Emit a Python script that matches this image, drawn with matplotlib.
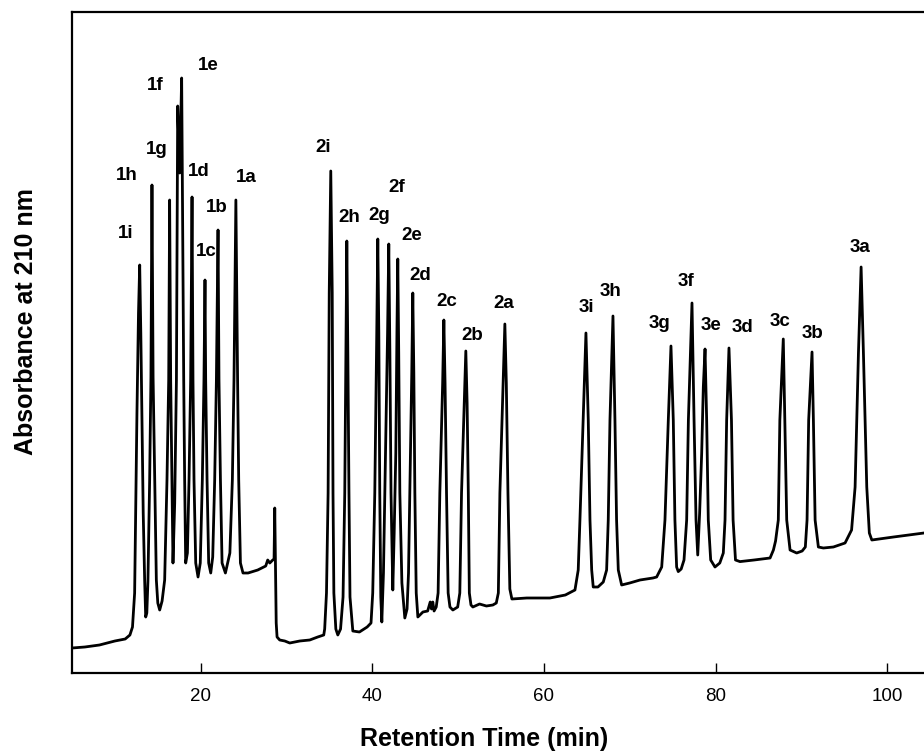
import matplotlib
matplotlib.use("Agg")
import matplotlib.pyplot as plt

plt.rcParams['font.family'] = ['Liberation Sans', 'DejaVu Sans']

# Chromatogram trace: retention time (min), absorbance (arb. units)
TIME = [
    5.00, 6.50, 8.20, 10.00, 11.20, 11.75, 12.05, 12.22,
    12.30, 12.45, 12.57, 12.75, 12.89, 13.02, 13.15, 13.30, 13.47, 13.59,
    13.72, 13.85, 14.05, 14.20, 14.32, 14.45, 14.64, 14.83, 15.00, 15.22,
    15.50, 15.80, 16.07, 16.27, 16.38, 16.50, 16.65, 16.77,
    16.97, 17.17, 17.32, 17.55, 17.78, 18.02, 18.13, 18.25,
    18.45, 18.64, 18.83, 18.99, 19.10, 19.22, 19.42, 19.69,
    19.95, 20.19, 20.38, 20.50, 20.58, 20.74, 20.93, 21.17,
    21.40, 21.63, 21.83, 22.02, 22.13, 22.30, 22.49, 22.88,
    23.40, 23.69, 23.88, 24.10, 24.30, 24.43, 24.63, 24.93, 25.52,
    26.65, 27.58, 27.81, 28.05, 28.40, 28.55, 28.63, 28.70, 28.80, 28.90,
    29.21, 29.80, 30.38, 31.55, 32.71, 33.64, 34.34,
    34.45, 34.66, 34.85, 34.98, 35.16, 35.33, 35.42, 35.52, 35.75, 35.98,
    36.30, 36.59, 36.79, 36.93, 37.03, 37.15, 37.28, 37.40, 37.73,
    38.50, 39.40,
    39.85, 40.05, 40.29, 40.52, 40.64, 40.76, 40.87, 40.99, 41.11,
    41.30, 41.50, 41.78, 41.92, 42.05, 42.18, 42.39,
    42.55, 42.74, 42.87, 42.97, 43.08, 43.21, 43.45, 43.79,
    44.05, 44.22, 44.37, 44.60, 44.72, 44.84, 44.96, 45.12, 45.31,
    45.90, 46.45, 46.75, 46.90, 47.05, 47.20,
    47.45, 47.67, 47.87, 48.20, 48.34, 48.48, 48.65, 48.84, 49.05, 49.39,
    49.95, 50.20, 50.40, 50.75, 50.90, 51.05, 51.19, 51.31, 51.50, 51.72,
    52.50, 53.30, 54.05,
    54.45, 54.69, 54.87, 55.25, 55.45, 55.62, 55.81, 56.03, 56.27,
    58.00, 60.70, 62.50, 63.62,
    64.00, 64.20, 64.58, 64.90, 65.17, 65.37, 65.57, 65.75,
    66.30, 66.92,
    67.31, 67.50, 67.70, 68.05, 68.28, 68.47, 68.67, 69.06,
    70.00, 71.20, 72.71, 73.14,
    73.73, 74.11, 74.50, 74.81, 75.08, 75.27, 75.47, 75.66,
    76.00, 76.33, 76.64, 76.84, 77.26, 77.50, 77.73, 77.93,
    78.15, 78.39, 78.58, 78.78, 78.97, 79.16, 79.44, 79.94,
    80.50, 80.91, 81.11, 81.30, 81.57, 81.86, 82.05, 82.33, 82.85,
    84.50, 86.36, 86.75,
    87.00, 87.32, 87.50, 87.90, 88.08, 88.30, 88.69, 89.46,
    90.10, 90.47, 90.67, 90.86, 91.25, 91.41, 91.61, 91.99, 92.57,
    93.74, 95.10,
    95.86, 96.27, 96.66, 96.97, 97.24, 97.63, 97.93, 98.22,
    100.75, 104.30,
]
ABSORBANCE = [
    12.5, 13.0, 14.0, 16.0, 17.0, 19.0, 23.0, 35.0,
    40.0, 90.0, 130.0, 180.0, 204.0, 170.0, 130.0, 80.0, 46.0, 28.0,
    30.0, 46.0, 96.5, 148.0, 244.0, 148.0, 96.5, 46.5, 35.0, 31.5,
    36.0, 46.5, 96.5, 146.5, 236.5, 146.5, 96.5, 55.0,
    85.0, 146.5, 283.5, 250.0, 297.5, 146.5, 96.5, 55.0,
    60.0, 96.5, 146.5, 238.0, 146.5, 96.5, 55.0, 48.0,
    55.0, 96.5, 146.5, 196.5, 146.5, 96.5, 55.0, 50.0,
    58.0, 96.5, 146.5, 221.5, 146.5, 96.5, 55.0, 50.0,
    60.0, 96.5, 146.5, 236.5, 146.5, 96.5, 55.0, 50.0, 50.0,
    51.5, 53.5, 56.5, 55.0, 56.5, 57.0, 82.5, 60.0, 25.0, 18.0,
    16.5, 16.0, 15.0, 16.0, 16.5, 18.0, 19.0,
    22.0, 40.0, 90.0, 190.0, 251.0, 190.0, 90.0, 40.0, 22.0, 19.0,
    22.0, 38.0, 90.0, 160.0, 216.0, 160.0, 90.0, 38.0, 21.0,
    20.5, 23.0,
    25.0, 40.0, 90.0, 170.0, 217.0, 170.0, 90.0, 38.0, 25.5,
    50.0, 100.0, 170.0, 214.5, 160.0, 90.0, 41.5,
    70.0, 110.0, 170.0, 207.0, 160.0, 90.0, 45.0, 27.5,
    32.0, 50.0, 90.0, 150.0, 190.0, 150.0, 90.0, 40.0, 28.0,
    30.5, 31.0, 35.5, 32.0, 35.5, 31.0,
    33.0, 40.0, 90.0, 145.0, 176.5, 145.0, 90.0, 40.0, 33.0, 31.5,
    33.0, 40.0, 90.0, 140.0, 161.0, 135.0, 90.0, 40.0, 34.0, 33.0,
    34.5, 33.5, 34.0,
    35.0, 40.0, 90.0, 145.0, 174.5, 145.0, 90.0, 42.0, 37.0,
    37.5, 37.5, 39.0, 41.5,
    51.5, 76.5, 126.5, 170.0, 126.5, 76.5, 51.5, 43.0,
    43.0, 45.5,
    51.5, 76.5, 126.5, 178.5, 126.5, 76.5, 51.5, 44.0,
    45.0, 46.5, 47.5, 48.0,
    53.0, 76.5, 126.5, 163.5, 126.5, 76.5, 53.0, 50.7,
    52.0, 56.5, 76.5, 126.5, 185.0, 126.5, 76.5, 59.0,
    80.0, 110.0, 143.0, 162.0, 126.5, 76.5, 56.5, 53.0,
    55.0, 60.0, 76.5, 126.5, 162.5, 126.5, 76.5, 56.5, 55.7,
    56.5, 57.5, 61.5,
    66.0, 76.5, 126.5, 167.0, 126.5, 76.5, 61.5, 60.0,
    61.0, 63.0, 76.5, 126.5, 160.5, 126.5, 76.5, 63.0, 62.5,
    63.0, 65.0,
    71.5, 93.0, 160.0, 203.0, 160.0, 93.0, 70.0, 66.5,
    68.0, 70.0,
]

# Peak labels and where they sit (time, absorbance)
PEAK_NAMES = ['1i', '1h', '1g', '1f', '1e', '1d', '1c', '1b', '1a',
              '2i', '2h', '2g', '2f', '2e', '2d', '2c', '2b', '2a',
              '3i', '3h', '3g', '3f', '3e', '3d', '3c', '3b', '3a']
LABEL_T = [11.25, 11.37, 14.87, 14.75, 20.93, 19.77, 20.70, 21.87, 25.36,
           34.23, 37.26, 40.76, 42.86, 44.61, 45.54, 48.69, 51.60, 55.33,
           64.96, 67.81, 73.53, 76.56, 79.48, 83.10, 87.53, 91.26, 96.85]
LABEL_A = [220.0, 248.5, 261.5, 294.0, 304.0, 250.5, 210.5, 232.5, 247.5,
           263.0, 227.5, 228.5, 242.5, 218.5, 199.0, 185.5, 169.0, 185.0,
           182.5, 190.5, 175.0, 195.5, 173.5, 173.0, 176.0, 169.5, 213.0]

X_TICKS = [20, 40, 60, 80, 100]

W, H = 924, 756
fig = plt.figure(figsize=(W / 100, H / 100), dpi=100)
ax = fig.add_axes([72 / W, (H - 673) / H, (930 - 72) / W, (673 - 12) / H])

ax.plot(TIME, ABSORBANCE, color='black', lw=2.0, solid_joinstyle='round')

for name, t, a in zip(PEAK_NAMES, LABEL_T, LABEL_A):
    ax.text(t, a, name, ha='center', va='center', fontsize=13.5,
            fontweight='bold', color='black')

ax.set_xlim(5, 105)
ax.set_ylim(0, 330.5)
ax.set_xticks(X_TICKS)
ax.set_xticklabels([str(v) for v in X_TICKS])
ax.set_yticks([])
ax.tick_params(axis='x', direction='in', length=7.2, width=1.0, pad=11,
               labelsize=13.5)
for side in ['left', 'bottom', 'top']:
    ax.spines[side].set_linewidth(1.6)
ax.spines['right'].set_visible(False)

ax.set_xlabel('Retention Time (min)', fontsize=18, fontweight='bold')
ax.set_ylabel('Absorbance at 210 nm', fontsize=18, fontweight='bold')
ax.xaxis.set_label_coords((484 - 72) / 858, (673 - 727) / 661)
ax.yaxis.set_label_coords((38 - 72) / 858, (673 - 322) / 661)

fig.savefig('out.png', dpi=100)
